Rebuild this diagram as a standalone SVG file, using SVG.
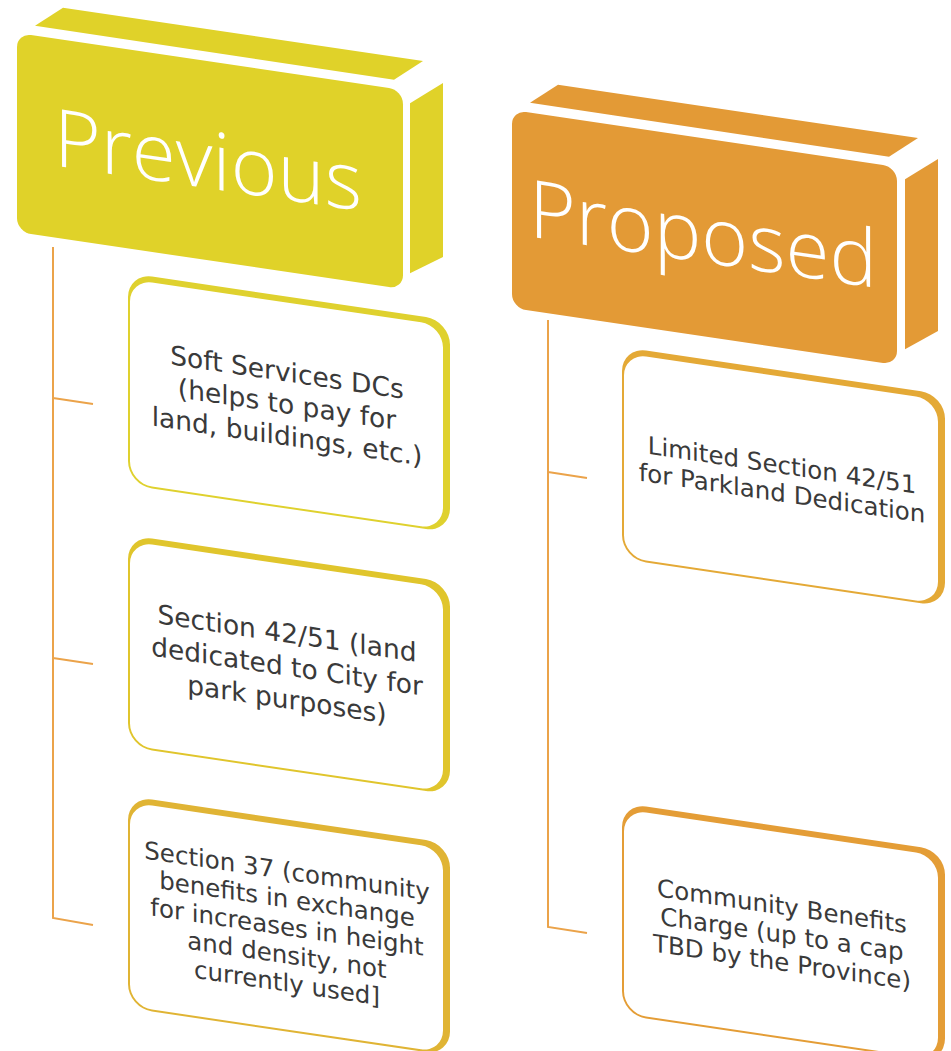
<svg xmlns="http://www.w3.org/2000/svg" width="951" height="1051" viewBox="0 0 951 1051">
<style>
.prev{fill:#E0D229}
.prop{fill:#E39A36}
.hdr{font-family:"Open Sans","Liberation Sans",sans-serif;font-weight:300;font-size:80px;fill:#FFFFFF;text-anchor:middle}
.bt{font-family:"DejaVu Sans","Liberation Sans",sans-serif;fill:#3A3A3A;text-anchor:middle}
.inner{fill:#FFFFFF}
.conn{fill:none;stroke:#EBA34A;stroke-width:2}
</style>
<rect width="951" height="1051" fill="#FFFFFF"/>
<g id="connectors">
<path class="conn" d="M53,247 V918 L93,925 M53,398 L93,404 M53,658 L93,664"/>
<path class="conn" d="M548,320 V927 L587,933 M548,472 L587,478"/>
</g>
<g id="previous" transform="matrix(1,0.148,0,1,17,33)">
<polygon class="prev" points="18,-10 46,-32 406,-32 377,-9"/>
<polygon class="prev" points="393,12 426,-13 426,161 393,182"/>
<rect class="prev" x="0" y="0" width="386" height="199" rx="14"/>
<text class="hdr" x="191" y="127">Previous</text>
</g>
<g id="proposed" transform="matrix(1,0.148,0,1,512,110)">
<polygon class="prop" points="18,-10 46,-32 406,-32 377,-9"/>
<polygon class="prop" points="393,11 426,-14 426,158 393,181"/>
<rect class="prop" x="0" y="0" width="385" height="198" rx="14"/>
<text class="hdr" x="191" y="124">Proposed</text>
</g>
<g id="soft-services" transform="matrix(1,0.148,0,1,128,273)">
<rect x="0" y="0" width="322" height="212" rx="24" fill="#DFD12E"/>
<rect class="inner" x="2" y="6" width="313" height="204" rx="22"/>
<text class="bt" font-size="26.5"><tspan x="159" y="85">Soft Services DCs</tspan><tspan x="159" y="117">(helps to pay for</tspan><tspan x="159" y="149">land, buildings, etc.)</tspan></text>
</g>
<g id="section-42-51" transform="matrix(1,0.148,0,1,128,535)">
<rect x="0" y="0" width="322" height="212" rx="24" fill="#E0C52C"/>
<rect class="inner" x="2" y="6" width="313" height="204" rx="22"/>
<text class="bt" font-size="26.5"><tspan x="159" y="84">Section 42/51 (land</tspan><tspan x="159" y="117">dedicated to City for</tspan><tspan x="159" y="150">park purposes)</tspan></text>
</g>
<g id="section-37" transform="matrix(1,0.148,0,1,128,796)">
<rect x="0" y="0" width="322" height="212" rx="24" fill="#E0B434"/>
<rect class="inner" x="2" y="6" width="313" height="204" rx="22"/>
<text class="bt" font-size="24.5"><tspan x="159" y="60">Section 37 (community</tspan><tspan x="159" y="88">benefits in exchange</tspan><tspan x="159" y="116">for increases in height</tspan><tspan x="159" y="144">and density, not</tspan><tspan x="159" y="172">currently used]</tspan></text>
</g>
<g id="limited-section" transform="matrix(1,0.148,0,1,622,347)">
<rect x="0" y="0" width="323" height="212" rx="24" fill="#E4A936"/>
<rect class="inner" x="2" y="6" width="314" height="204" rx="22"/>
<text class="bt" font-size="24.5"><tspan x="160" y="103">Limited Section 42/51</tspan><tspan x="160" y="131">for Parkland Dedication</tspan></text>
</g>
<g id="community-benefits" transform="matrix(1,0.148,0,1,622,803)">
<rect x="0" y="0" width="323" height="212" rx="24" fill="#E49D36"/>
<rect class="inner" x="2" y="6" width="314" height="204" rx="22"/>
<text class="bt" font-size="24.5"><tspan x="160" y="88">Community Benefits</tspan><tspan x="160" y="116">Charge (up to a cap</tspan><tspan x="160" y="144">TBD by the Province)</tspan></text>
</g>
</svg>
